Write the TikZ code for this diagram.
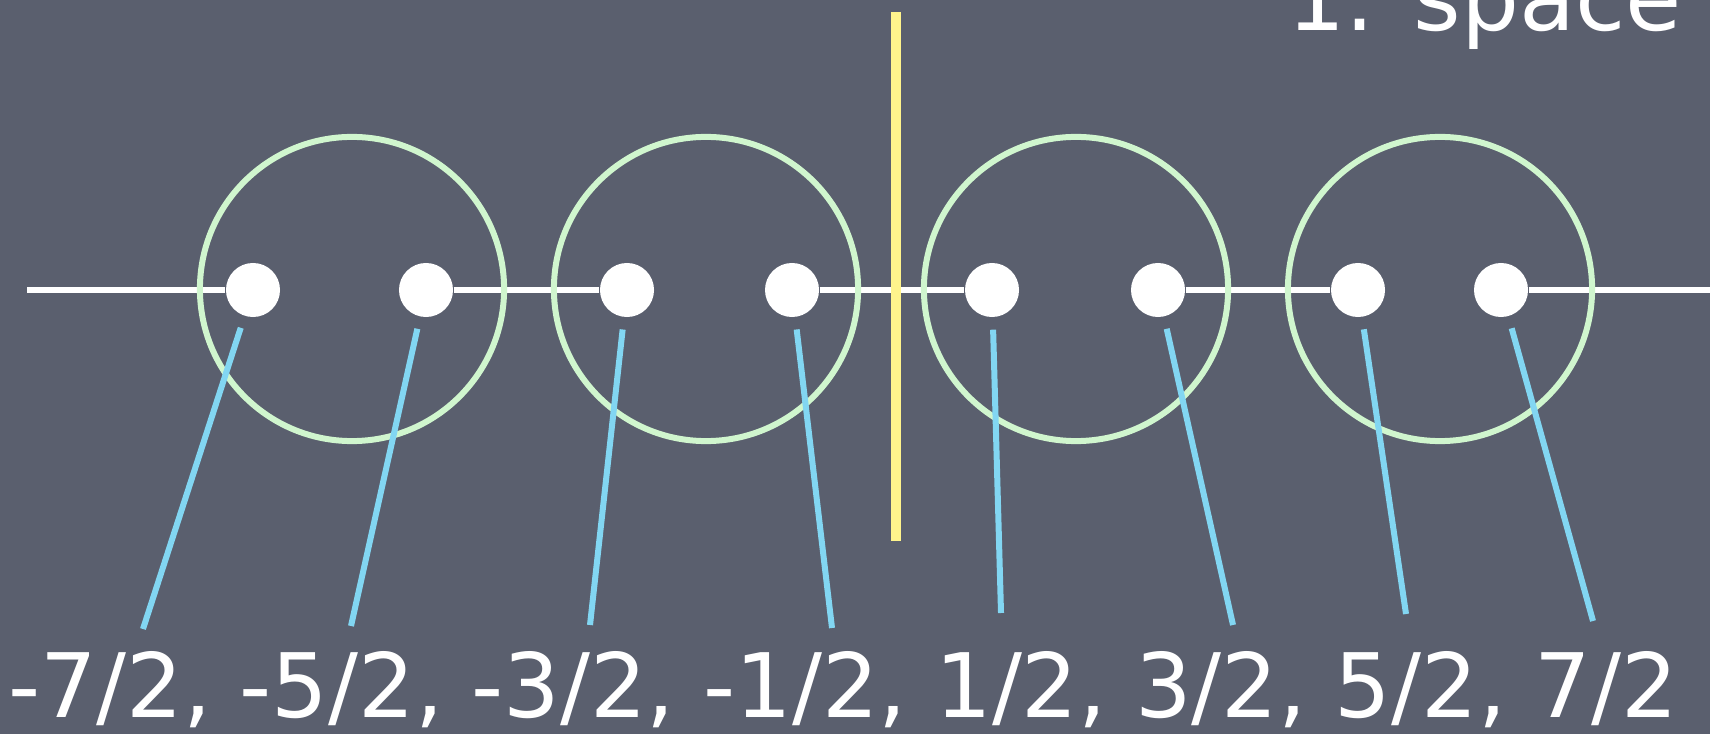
\documentclass[tikz,border=0pt]{standalone}
\usepackage{fontspec}
\setmainfont{DejaVu Sans}
\definecolor{board}{RGB}{90,95,110}
\definecolor{chalkgreen}{RGB}{208,246,206}
\definecolor{chalkblue}{RGB}{130,214,242}
\definecolor{chalkyellow}{RGB}{255,244,140}
\tikzset{
  spin/.style={circle,fill=white,inner sep=0pt,minimum size=0.54cm},
  ring/.style={circle,draw=chalkgreen,line width=0.06cm,inner sep=0pt,minimum size=3.04cm},
  axis/.style={white,line width=0.06cm},
  tie/.style={chalkblue,line width=0.06cm,shorten <=0.12cm},
  mirror/.style={chalkyellow,line width=0.1cm},
}
\begin{document}
\begin{tikzpicture}[x=0.01cm,y=-0.01cm]
    \fill[board] (0,0) rectangle (1710,734);% the board
    \useasboundingbox (0,0) rectangle (1710,734);
    \clip (0,0) rectangle (1710,734);
    % the spins
    \foreach \n/\x in {1/253,2/426,3/627,4/792,5/992,6/1158,7/1358,8/1501}
        \node[spin] (d\n) at (\x,290) {};
    % the chain
    \coordinate (w) at (27,290);
    \coordinate (e) at (1712,290);
    \draw[axis] (w) -- (d1) (d2) -- (d3) (d4) -- (d5) (d6) -- (d7) (d8) -- (e);
    % the pairs
    \foreach \n/\x in {1/352,2/706,3/1076,4/1440}
        \node[ring] (c\n) at (\x,289) {};
    % the labels
    \node[white,anchor=base west,inner sep=0pt,font=\fontsize{26}{26}\selectfont] (title) at (1287,31) {1. space};
    \node[white,anchor=base,inner sep=0pt,font=\fontsize{25.3}{25.3}\selectfont] (vals) at (843,717) {-7/2, -5/2, -3/2, -1/2, 1/2, 3/2, 5/2, 7/2};
    % the ties
    \foreach \n/\x/\y in {1/143/629,2/351/626,3/590/625,4/832/628,5/1001/613,6/1233/625,7/1406/614,8/1593/621}
        \coordinate (b\n) at (\x,\y);
    \foreach \n in {1,...,8}
        \draw[tie] (d\n) -- (b\n);
    % the mirror
    \coordinate (mtop) at (896,12);
    \coordinate (mbot) at (896,541);
    \draw[mirror] (mtop) -- (mbot);
\end{tikzpicture}
\end{document}
